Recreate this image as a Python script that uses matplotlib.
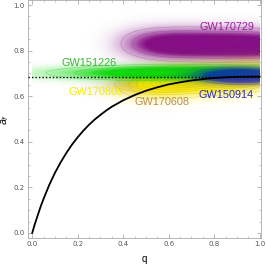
import numpy as np
import matplotlib
matplotlib.use('Agg')
import matplotlib.pyplot as plt
from matplotlib.colors import to_rgb

# final spin of non-spinning binaries vs mass ratio
q_curve = [0.0, 0.005, 0.01, 0.025, 0.0375, 0.05, 0.075, 0.1, 0.125, 0.15,
           0.175, 0.2, 0.225, 0.25, 0.275, 0.3, 0.325, 0.35, 0.4, 0.45, 0.5,
           0.55, 0.6, 0.65, 0.7, 0.75, 0.8, 0.85, 0.9, 0.95, 1.0]
af_curve = [0.0, 0.017, 0.034, 0.080, 0.117, 0.150, 0.211, 0.264, 0.310, 0.351,
            0.388, 0.420, 0.449, 0.475, 0.498, 0.518, 0.537, 0.554, 0.582,
            0.605, 0.624, 0.639, 0.652, 0.661, 0.669, 0.675, 0.680, 0.683,
            0.685, 0.686, 0.686]
af_equal = 0.686

# posterior blobs, drawn in this order
events = ['GW170729', 'GW170608', 'GW170809', 'GW151226', 'GW150914']
q_mean = [0.80, 0.62, 0.76, 0.62, 0.92]
q_sd = [0.28, 0.12, 0.26, 0.26, 0.10]
q_shape = [4, 2, 4, 2, 2]
af_mean = [0.826, 0.665, 0.672, 0.704, 0.690]
af_sd = [0.036, 0.022, 0.038, 0.017, 0.018]
rho = [-0.1, 0.3, 0.45, 0.05, 0.0]
peak_alpha = [0.95, 0.8, 0.9, 0.95, 0.7]
blob_colors = ['#800080', '#996633', '#ffee00', '#00dd00', '#0000dd']

# labels
label_q = [0.858, 0.572, 0.28, 0.249, 0.851]
label_af = [0.905, 0.576, 0.62, 0.747, 0.605]
label_colors = ['#9b1d9b', '#b88a5c', '#f0f000', '#3cb43c', '#2a2ab4']

fig = plt.figure(figsize=(2.66, 2.64), dpi=100)
ax = fig.add_axes([0.104, 0.0985, 0.878, 0.9015])

qg = np.linspace(0, 1, 300)
ag = np.linspace(0, 1, 300)
Q, A = np.meshgrid(qg, ag)

for i, ev in enumerate(events):
    zq = (Q - q_mean[i]) / q_sd[i]
    za = (A - af_mean[i]) / af_sd[i]
    r = rho[i]
    za = (za - r * zq) / np.sqrt(1 - r**2)
    d = np.exp(-0.5 * (np.abs(zq)**q_shape[i] + za**2))
    img = np.zeros(d.shape + (4,))
    img[..., :3] = to_rgb(blob_colors[i])
    img[..., 3] = np.clip(1.5 * d**0.7, 0, peak_alpha[i])
    ax.imshow(img, extent=[0, 1, 0, 1], origin='lower', aspect='auto',
              interpolation='bilinear', zorder=2 + i)
    dark = tuple(0.5 * c + 0.2 for c in to_rgb(blob_colors[i]))
    ax.contour(Q, A, d, levels=[0.1, 0.25, 0.4, 0.55, 0.7, 0.85],
               colors=[dark], linewidths=0.35, alpha=0.45, zorder=2 + i)

ax.axhline(af_equal, color='black', ls=(0, (1, 1.5)), lw=1.0, zorder=10)
ax.plot(q_curve, af_curve, color='black', lw=1.3, zorder=11)

for i, ev in enumerate(events):
    ax.text(label_q[i], label_af[i], ev, color=label_colors[i],
            fontsize=7.8, family='Liberation Sans', ha='center', va='center',
            zorder=12)

ax.set_xlim(-0.02, 1.0066)
ax.set_ylim(-0.022, 1.022)
ax.set_xticks([0, 0.2, 0.4, 0.6, 0.8, 1.0])
ax.set_yticks([0, 0.2, 0.4, 0.6, 0.8, 1.0])
ax.set_xticks(np.arange(0, 1.01, 0.05), minor=True)
ax.set_yticks(np.arange(0, 1.01, 0.05), minor=True)
ax.tick_params(which='both', direction='in', top=True, right=True,
               colors='#999999', labelcolor='#555555', labelsize=5,
               pad=2)
ax.tick_params(which='major', length=3, width=0.5)
ax.tick_params(which='minor', length=1.5, width=0.4)
for s in ax.spines.values():
    s.set_color('#aaaaaa')
    s.set_linewidth(0.6)

ax.set_xlabel('q', fontsize=7, family='Liberation Sans', labelpad=5)
ax.set_ylabel('$a_f$', fontsize=7)
ax.yaxis.set_label_coords(-0.07, 0.5)

fig.savefig('out.png', dpi=100)
